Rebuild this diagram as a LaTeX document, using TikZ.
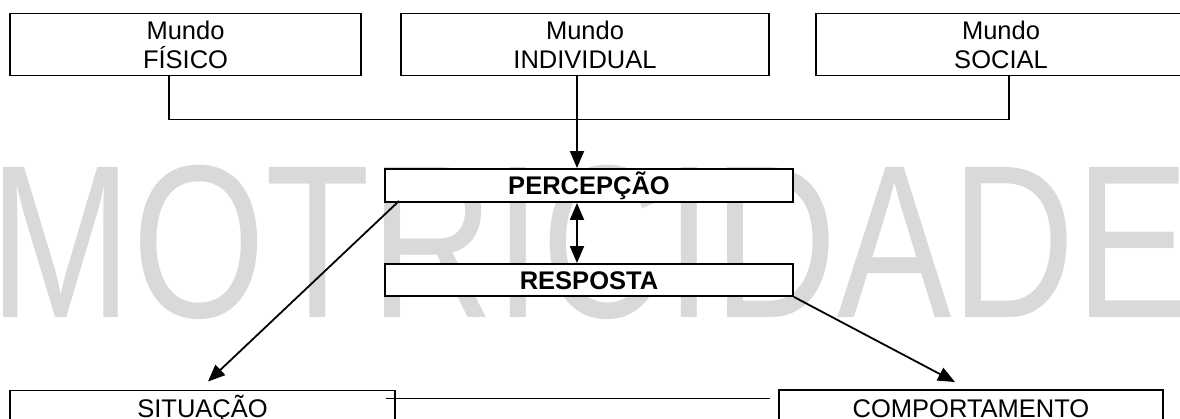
\documentclass[tikz,border=0pt]{standalone}
\usepackage{fontspec}
\setmainfont{Liberation Sans}
\usepackage{graphicx}
\usetikzlibrary{arrows.meta,calc}
\definecolor{wmgray}{RGB}{217,217,217}
\begin{document}
\begin{tikzpicture}[x=1pt,y=-1pt,
  box/.style={draw=black, line width=1.9pt, fill=white, inner sep=0pt,
    font=\fontsize{25.5}{29}\selectfont, align=center},
  onebox/.style={box, text height=18.3pt, text depth=0pt},
  boldbox/.style={onebox, font=\fontsize{25.5}{29}\selectfont\bfseries},
  conn/.style={line width=1.8pt, draw=black},
  arr/.style={conn, -{Triangle[length=17pt,width=14pt]}},
  arrboth/.style={conn, {Triangle[length=17pt,width=14pt]}-{Triangle[length=17pt,width=14pt]}}]
\useasboundingbox[fill=white] (0,0) rectangle (1180,419);

% watermark
\node[anchor=base west, inner sep=0pt, text=wmgray] (wm) at (-10.7,318)
  {\resizebox{1200pt}{152pt}{MOTRICIDADE}};

% top boxes
\node[box, minimum width=351pt, minimum height=62pt] (fisico) at (185.5,44.5) {Mundo\\FÍSICO};
\node[box, minimum width=368pt, minimum height=62pt] (individual) at (585,44.5) {Mundo\\INDIVIDUAL};
\node[box, minimum width=370pt, minimum height=62pt] (social) at (1001,44.5) {Mundo\\SOCIAL};

% middle boxes
\node[boldbox, minimum width=408pt, minimum height=33pt] (percepcao) at (589,185.5) {PERCEPÇÃO};
\node[boldbox, minimum width=408pt, minimum height=32pt] (resposta) at (589,280) {RESPOSTA};

% bottom boxes
\node[onebox, minimum width=385pt, minimum height=34.7pt] (situacao) at (202.5,407.85) {SITUAÇÃO};
\node[onebox, minimum width=384pt, minimum height=35.7pt] (comportamento) at (971,407.85) {COMPORTAMENTO};

% connectors
\draw[conn, line width=1.5pt] ([xshift=-16.5pt]fisico.south) -- ++(0,43) -| ([xshift=8pt]social.south);
\draw[arr] ([xshift=-8pt]individual.south) -- ([xshift=-8pt]individual.south |- percepcao.north);
\draw[arrboth] ([xshift=-12pt]percepcao.south) -- ([xshift=-12pt]resposta.north);
\draw[arr] ([xshift=15pt,yshift=2pt]percepcao.south west) -- ([xshift=5.5pt,yshift=8pt]situacao.north);
\draw[arr] (resposta.south east) -- ([xshift=-16pt,yshift=7pt]comportamento.north);
\draw[conn] ([xshift=-10pt,yshift=-9pt]situacao.north east) -- ([xshift=-8pt,yshift=-9.5pt]comportamento.north west);
\end{tikzpicture}
\end{document}
